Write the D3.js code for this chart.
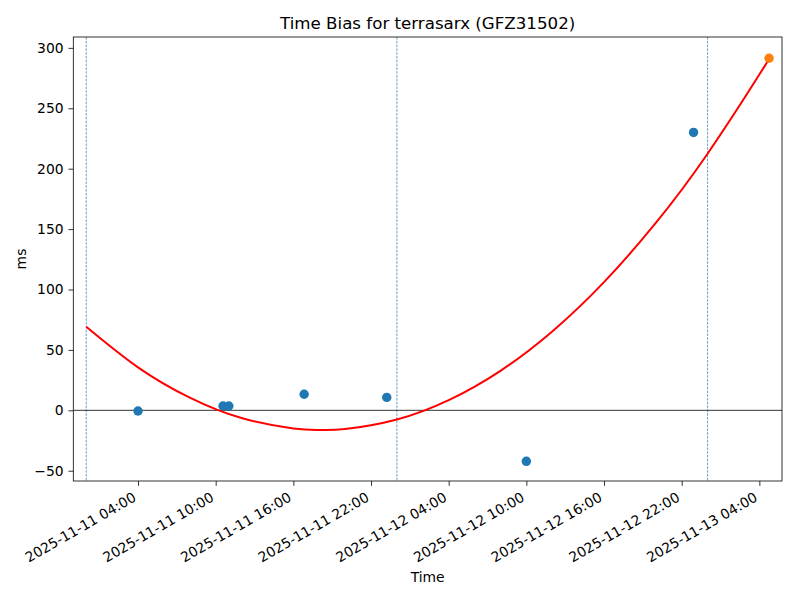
<!DOCTYPE html>
<html>
<head>
<meta charset="utf-8">
<script src="https://cdn.jsdelivr.net/npm/d3@7"></script>
<style>
  html, body { margin: 0; padding: 0; background: #fff; }
  svg { display: block; font-family: "DejaVu Sans", sans-serif; }
</style>
</head>
<body>
<svg id="chart" width="800" height="600"></svg>
<script>
// ---- data ----
const titleText = "Time Bias for terrasarx (GFZ31502)";
const xLabel = "Time";
const yLabel = "ms";

// measured time-bias points (blue)
const pointTimes = ["2025-11-11T04:00", "2025-11-11T10:34", "2025-11-11T11:01",
                    "2025-11-11T16:50", "2025-11-11T23:13", "2025-11-12T10:00",
                    "2025-11-12T22:55"];
const pointValues = [-0.6, 3.6, 3.6, 13.3, 10.7, -42.2, 230.0];

// latest point (orange)
const lastTime = ["2025-11-13T04:45"];
const lastValue = [291.4];

// fitted curve (red)
const fitTimes = ["2025-11-11T00:00", "2025-11-11T04:00", "2025-11-11T08:00",
                  "2025-11-11T12:00", "2025-11-11T16:00", "2025-11-11T18:00",
                  "2025-11-11T20:00", "2025-11-12T00:00", "2025-11-12T04:00",
                  "2025-11-12T08:00", "2025-11-12T12:00", "2025-11-12T16:00",
                  "2025-11-12T20:00", "2025-11-13T00:00", "2025-11-13T04:00",
                  "2025-11-13T04:45"];
const fitValues = [69.2, 35.6, 10.5, -6.4, -15.0, -16.3, -15.5, -7.6, 8.4,
                   32.7, 65.3, 106.1, 155.1, 212.4, 277.9, 291.4];

// day boundaries (dashed vertical lines)
const dayLines = ["2025-11-11T00:00", "2025-11-12T00:00", "2025-11-13T00:00"];

// axis ticks
const xTicks = ["2025-11-11T04:00", "2025-11-11T10:00", "2025-11-11T16:00",
                "2025-11-11T22:00", "2025-11-12T04:00", "2025-11-12T10:00",
                "2025-11-12T16:00", "2025-11-12T22:00", "2025-11-13T04:00"];
const yTicks = [-50, 0, 50, 100, 150, 200, 250, 300];
const xDomain = ["2025-11-10T23:00", "2025-11-13T05:45"];
const yDomain = [-58.5, 309];

// ---- drawing ----
const FONT = "DejaVu Sans";
const parse = d3.utcParse("%Y-%m-%dT%H:%M");
const fmt = d3.utcFormat("%Y-%m-%d %H:%M");
const svg = d3.select("#chart");
const m = {left: 73.3, right: 782, top: 37, bottom: 481};

const x = d3.scaleUtc().domain(xDomain.map(parse)).range([m.left, m.right]);
const y = d3.scaleLinear().domain(yDomain).range([m.bottom, m.top]);

const FS = 13.89;
const plot = svg.append("g");

svg.append("defs").append("clipPath").attr("id", "clip")
  .append("rect").attr("x", m.left).attr("y", m.top)
  .attr("width", m.right - m.left).attr("height", m.bottom - m.top);

const inner = plot.append("g").attr("clip-path", "url(#clip)");

// dashed day lines
inner.selectAll("line.day").data(dayLines).enter().append("line")
  .attr("class", "day")
  .attr("x1", d => x(parse(d))).attr("x2", d => x(parse(d)))
  .attr("y1", m.top).attr("y2", m.bottom)
  .attr("stroke", "#1f77b4").attr("stroke-width", 0.7)
  .attr("stroke-dasharray", "2.6,1.2");

// zero line
inner.append("line")
  .attr("x1", m.left).attr("x2", m.right)
  .attr("y1", y(0)).attr("y2", y(0))
  .attr("stroke", "#000").attr("stroke-width", 0.8);

// points
inner.selectAll("circle.pt").data(pointTimes.map((t, i) => ({t: parse(t), v: pointValues[i]})))
  .enter().append("circle").attr("class", "pt")
  .attr("cx", d => x(d.t)).attr("cy", d => y(d.v)).attr("r", 4.7)
  .attr("fill", "#1f77b4");

// fitted curve
const fitData = fitTimes.map((t, i) => ({t: parse(t), v: fitValues[i]}));
inner.append("path").datum(fitData)
  .attr("fill", "none").attr("stroke", "red").attr("stroke-width", 2)
  .attr("d", d3.line().x(d => x(d.t)).y(d => y(d.v)).curve(d3.curveNatural));

// last point
inner.selectAll("circle.last").data(lastTime.map((t, i) => ({t: parse(t), v: lastValue[i]})))
  .enter().append("circle").attr("class", "last")
  .attr("cx", d => x(d.t)).attr("cy", d => y(d.v)).attr("r", 4.7)
  .attr("fill", "#ff7f0e");

// axes
const xAxis = d3.axisBottom(x).tickValues(xTicks.map(parse)).tickFormat(fmt)
  .tickSize(4.86).tickPadding(4.86);
const gx = svg.append("g").attr("transform", `translate(0,${m.bottom})`).call(xAxis)
  .attr("font-family", FONT).attr("font-size", FS);
gx.select(".domain").remove();
gx.selectAll(".tick line").attr("stroke", "#000").attr("stroke-width", 0.8);
gx.selectAll(".tick text")
  .attr("font-family", FONT).attr("font-size", FS).attr("fill", "#000")
  .attr("text-anchor", "end")
  .attr("x", -1.6).attr("y", 0).attr("dy", 0)
  .attr("transform", "translate(0,18.4) rotate(-30)");

const yAxis = d3.axisLeft(y).tickValues(yTicks).tickSize(4.86).tickPadding(4.86);
const gy = svg.append("g").attr("transform", `translate(${m.left},0)`).call(yAxis)
  .attr("font-family", FONT).attr("font-size", FS);
gy.select(".domain").remove();
gy.selectAll(".tick line").attr("stroke", "#000").attr("stroke-width", 0.8);
gy.selectAll(".tick text").attr("font-family", FONT).attr("font-size", FS).attr("fill", "#000");

// frame
svg.append("rect").attr("x", m.left).attr("y", m.top)
  .attr("width", m.right - m.left).attr("height", m.bottom - m.top)
  .attr("fill", "none").attr("stroke", "#000").attr("stroke-width", 0.8);

// title & labels
svg.append("text").attr("x", (m.left + m.right) / 2).attr("y", 28.5)
  .attr("text-anchor", "middle").attr("font-family", FONT).attr("font-size", 16.67).text(titleText);
svg.append("text").attr("x", (m.left + m.right) / 2).attr("y", 582)
  .attr("text-anchor", "middle").attr("font-family", FONT).attr("font-size", FS).text(xLabel);
svg.append("text").attr("transform", `translate(26,${(m.top + m.bottom) / 2}) rotate(-90)`)
  .attr("text-anchor", "middle").attr("font-family", FONT).attr("font-size", FS).text(yLabel);
</script>
</body>
</html>
